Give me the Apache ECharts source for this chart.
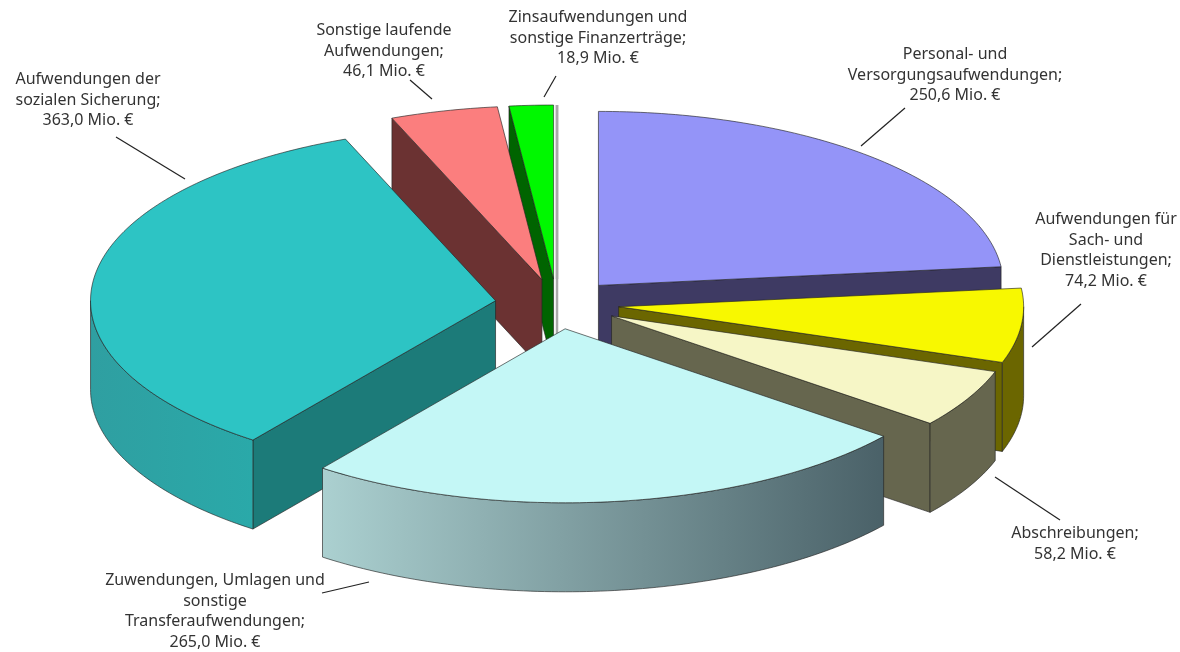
<!DOCTYPE html>
<html>
<head>
<meta charset="utf-8">
<title>Aufwendungen</title>
<style>
  html, body { margin: 0; padding: 0; background: #fff; }
  #chart { width: 1180px; height: 652px; }
</style>
<script src="https://cdn.jsdelivr.net/npm/echarts@6/dist/echarts.min.js"></script>
</head>
<body>
<div id="chart"></div>
<script>
  // Mio. Euro, clockwise from 12 o'clock. The last one is the empty slice that
  // shows up as a grey hairline next to the green piece in the original
  const names = [
    'Personal- und\nVersorgungsaufwendungen;\n250,6 Mio. €',
    'Aufwendungen für\nSach- und\nDienstleistungen;\n74,2 Mio. €',
    'Abschreibungen;\n58,2 Mio. €',
    'Zuwendungen, Umlagen und\nsonstige\nTransferaufwendungen;\n265,0 Mio. €',
    'Aufwendungen der\nsozialen Sicherung;\n363,0 Mio. €',
    'Sonstige laufende\nAufwendungen;\n46,1 Mio. €',
    'Zinsaufwendungen und\nsonstige Finanzerträge;\n18,9 Mio. €',
    ''
  ]
  const values = [250.6, 74.2, 58.2, 265.0, 363.0, 46.1, 18.9, 0]

  const topColors = ['#9494f8', '#f8f800', '#f6f6c6', '#c4f7f6', '#2dc4c4', '#fb7e7e', '#00f800', '#ffffff']
  const wallColors = ['#3e3a63', '#6b6600', '#66664e', '#1c7b79', '#1c7b79', '#6b3232', '#006400', '#ffffff']
  // outer rim, left to right
  const rimColors = [
    ['#3e3a63', '#3e3a63'], ['#6b6600', '#6b6600'], ['#66664e', '#66664e'], ['#abd0d0', '#4a6168'],
    ['#2f9fa1', '#2aa9a9'], ['#6b3232', '#6b3232'], ['#006400', '#006400'], ['#ffffff', '#ffffff']
  ]

  // label centre x, top y, then the leader line
  const labelX = [955, 1106, 1075, 215, 88, 384, 598]
  const labelY = [44, 209, 523, 570, 69, 20, 7]
  const leaders = [
    [861, 146, 905, 108], [1032, 347, 1081, 304], [995, 477, 1060, 520], [369, 582, 322, 593],
    [185, 179, 116, 137], [432, 99, 410, 80], [544, 97, 556, 76]
  ]

  const centerX = 557
  const centerY = 304
  const radiusX = 405
  const radiusY = 174
  const depth = 89
  const explodeX = 62
  const explodeY = 25

  const total = values.reduce((a, b) => a + b, 0)
  const rad = d => d * Math.PI / 180

  // start/end angle in degrees of every slice
  const slices = []
  let sum = 0
  values.forEach((v, i) => {
    const a0 = sum / total * 360
    sum += v
    slices.push({ i: i, a0: a0, a1: sum / total * 360 })
  })

  // painter's order, pieces at the back first
  const drawOrder = slices.slice().sort((p, q) => {
    return Math.cos(rad((q.a0 + q.a1) / 2)) - Math.cos(rad((p.a0 + p.a1) / 2))
  }).map(s => s.i)

  function renderSlice(params, api) {
    const idx = api.value(0)
    const s = slices[idx]
    const mid = rad((s.a0 + s.a1) / 2)
    const ax = centerX + explodeX * Math.sin(mid)
    const ay = centerY - explodeY * Math.cos(mid)
    const rim = a => [ax + radiusX * Math.sin(rad(a)), ay - radiusY * Math.cos(rad(a))]
    const down = p => [p[0], p[1] + depth]

    const empty = values[idx] === 0
    const edge = empty
      ? { stroke: '#a8a8a8', lineWidth: 2.5 }
      : { stroke: 'rgba(35,35,35,0.8)', lineWidth: 0.8, lineJoin: 'round' }
    const wall = (points, fill) => ({
      type: 'polygon',
      shape: { points: points },
      style: Object.assign({ fill: fill }, edge)
    })
    const arc = (from, to) => {
      const pts = []
      const n = Math.max(1, Math.ceil(to - from))
      for (let k = 0; k <= n; k++) pts.push(rim(from + (to - from) * k / n))
      return pts
    }

    const apex = [ax, ay]
    const first = rim(s.a0)
    const last = rim(s.a1)
    const children = []
    // a cut face only shows when the slice's top lies above it on screen
    if (empty || Math.sin(rad(s.a0)) < 0) {
      children.push(wall([apex, first, down(first), down(apex)], wallColors[idx]))
    }
    if (!empty && Math.sin(rad(s.a1)) > 0) {
      children.push(wall([apex, last, down(last), down(apex)], wallColors[idx]))
    }

    // the rim can only be seen on the front half
    const from = Math.max(s.a0, 90)
    const to = Math.min(s.a1, 270)
    if (to > from) {
      const top = arc(from, to)
      const bottom = top.map(down).reverse()
      children.push(wall(top.concat(bottom), new echarts.graphic.LinearGradient(0, 0, 1, 0, [
        { offset: 0, color: rimColors[idx][0] },
        { offset: 1, color: rimColors[idx][1] }
      ])))
    }

    children.push(wall([apex].concat(arc(s.a0, s.a1)), topColors[idx]))
    return { type: 'group', children: children }
  }

  const labelGraphics = []
  names.forEach((name, i) => {
    if (!name) return
    labelGraphics.push({
      type: 'text',
      x: labelX[i],
      y: labelY[i],
      style: {
        text: name,
        fill: '#333',
        font: '16px "Noto Sans"',
        align: 'center',
        verticalAlign: 'top',
        lineHeight: 20.7
      }
    })
    const l = leaders[i]
    labelGraphics.push({
      type: 'line',
      shape: { x1: l[0], y1: l[1], x2: l[2], y2: l[3] },
      style: { stroke: '#222', lineWidth: 1.2 }
    })
  })

  const chart = echarts.init(document.getElementById('chart'))
  chart.setOption({
    backgroundColor: '#fff',
    animation: false,
    graphic: labelGraphics,
    series: [{
      type: 'custom',
      coordinateSystem: 'none',
      silent: true,
      renderItem: renderSlice,
      data: drawOrder.map(i => [i, values[i]])
    }]
  })
</script>
</body>
</html>
